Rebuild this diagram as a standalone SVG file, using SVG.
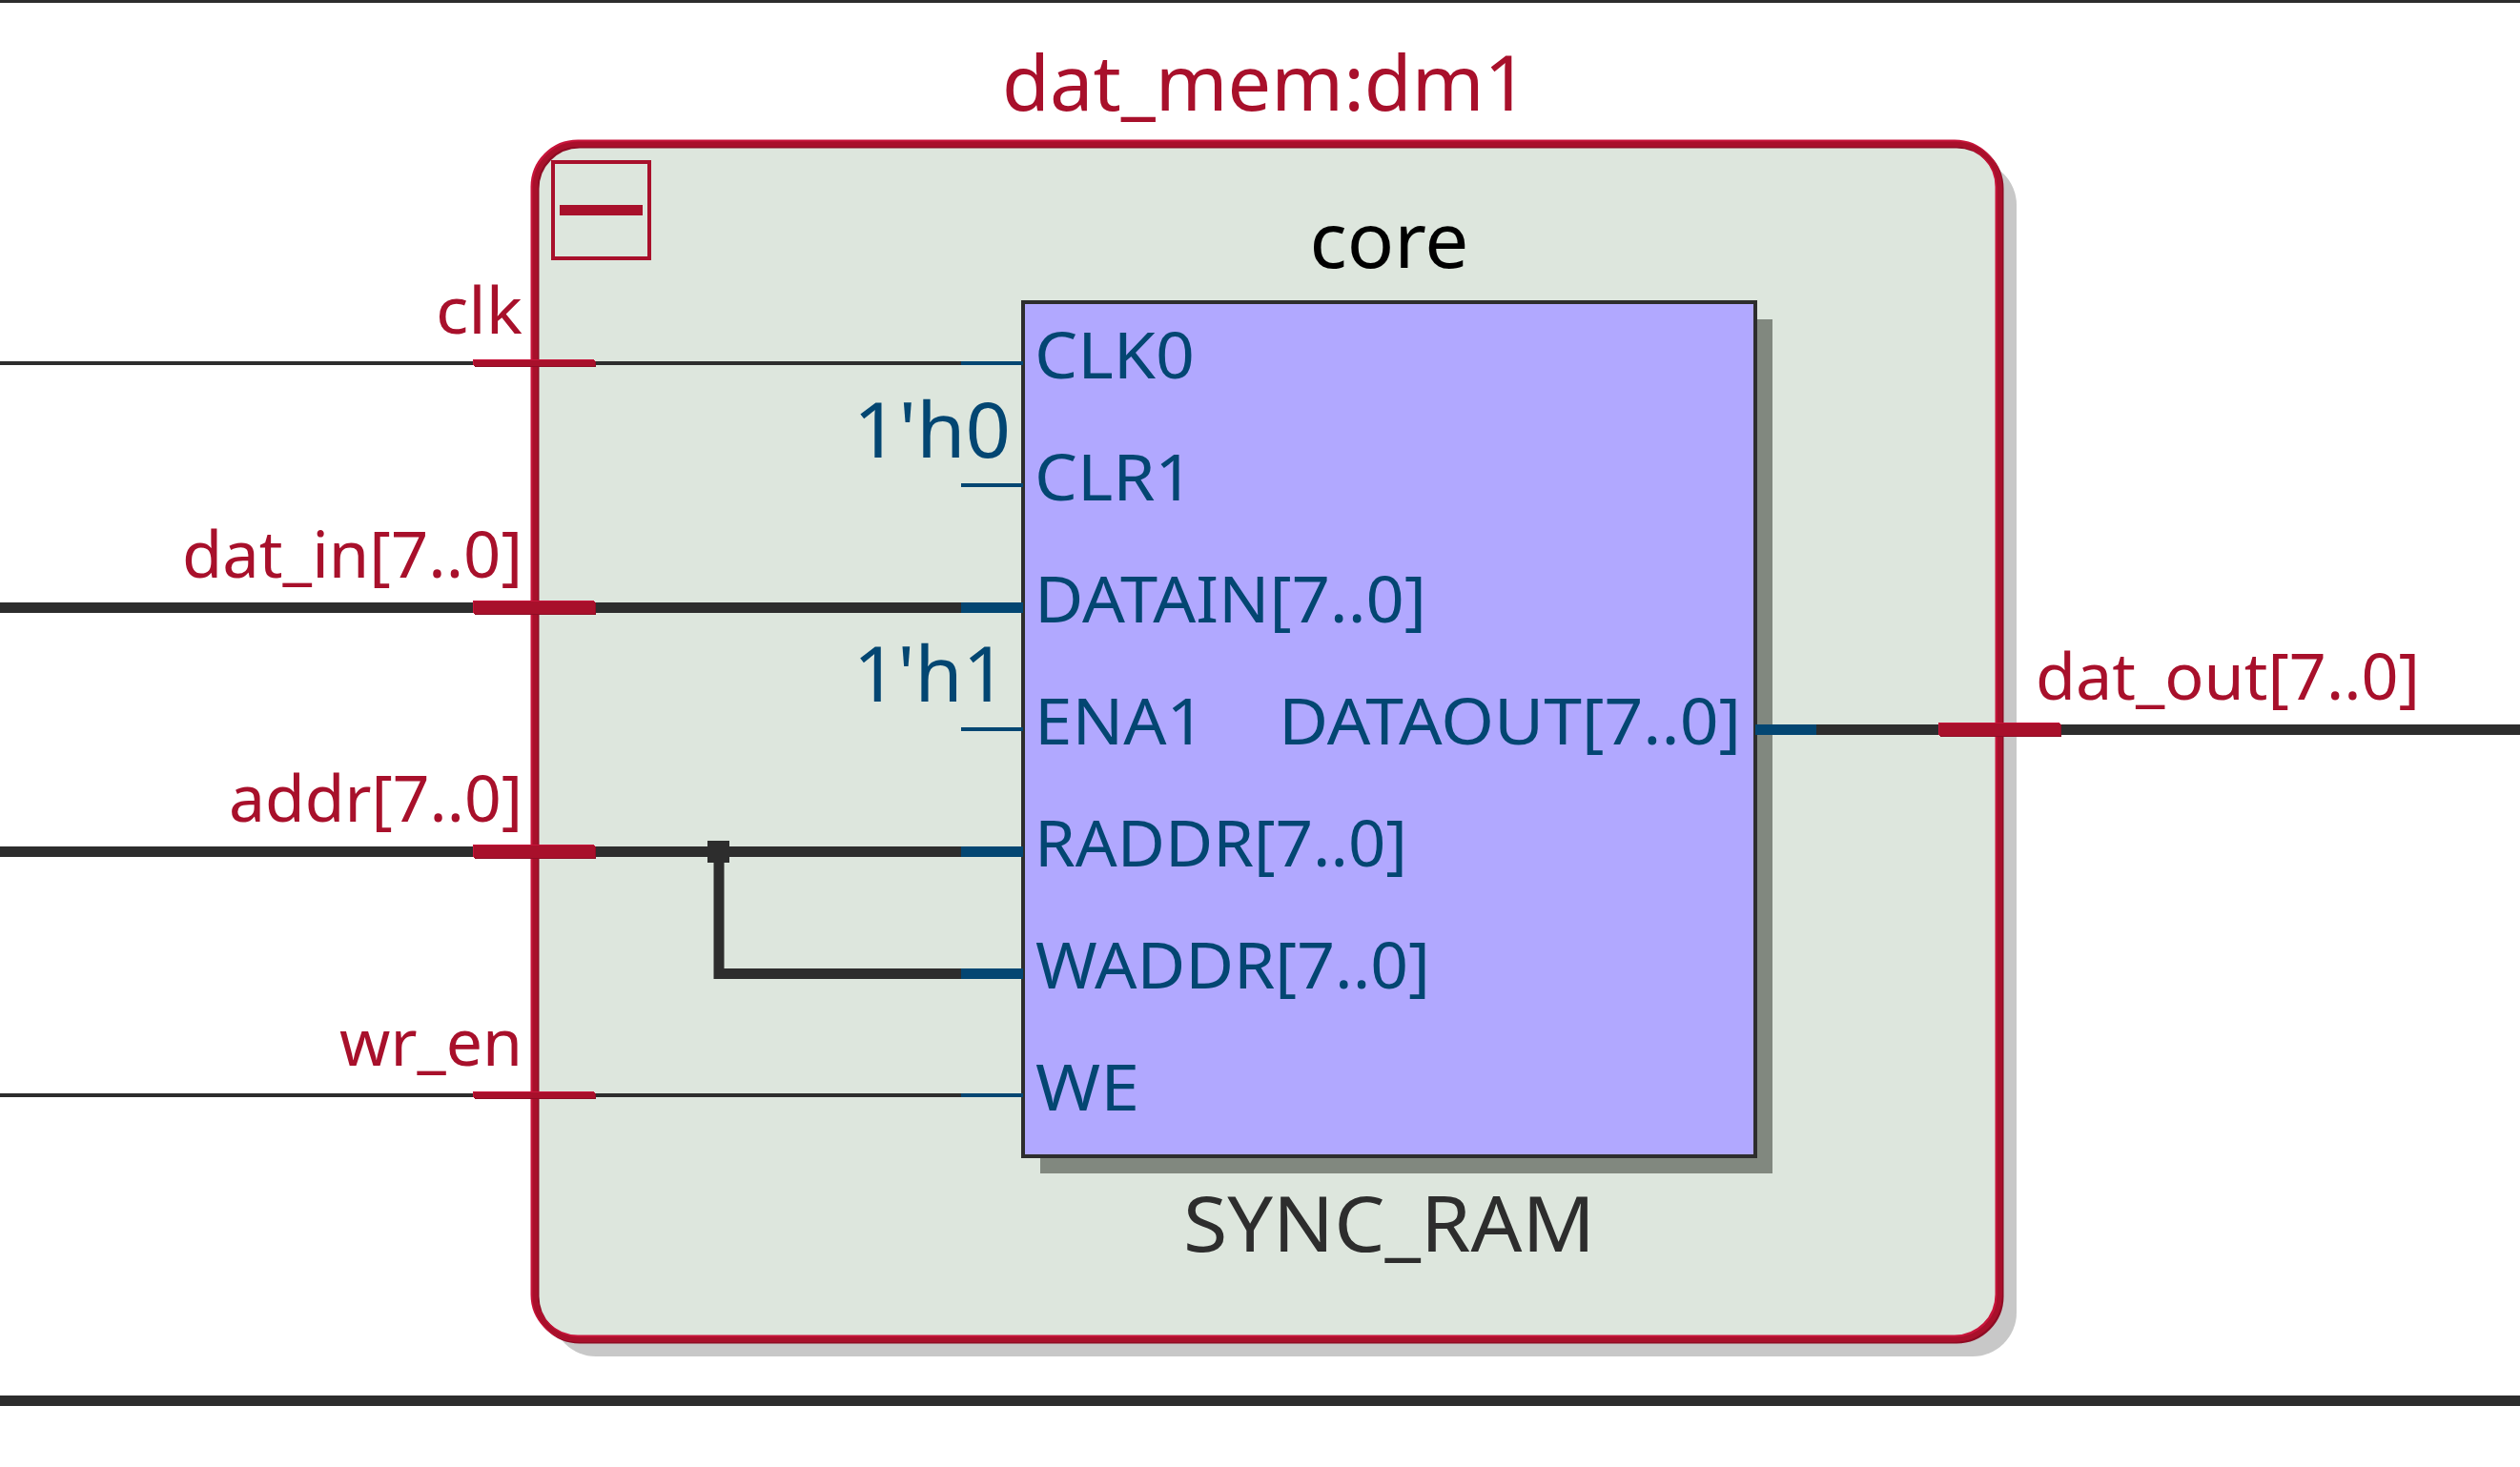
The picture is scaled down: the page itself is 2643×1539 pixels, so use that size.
<svg xmlns="http://www.w3.org/2000/svg" width="2643" height="1539" viewBox="0 0 2643 1539">
<style>
text{font-family:"Noto Sans","Open Sans",sans-serif}
.red{fill:#a8102b;font-size:68px}
.blue{fill:#034672;font-size:68px}
.big{font-size:80px}
.w1{stroke:#2d2d2d;stroke-width:4;fill:none}
.w8{stroke:#2d2d2d;stroke-width:11;fill:none}
.b1{stroke:#034672;stroke-width:4;fill:none}
.b8{stroke:#034672;stroke-width:11;fill:none}
.s1{fill:#a8102b}
.sl{fill:#c8143a}
.sd{fill:#8e0c24}
.frame{fill:none;stroke-width:7}
</style>
<defs>
<rect id="stubT" width="127" height="6"/>
<rect id="stubB" width="127" height="13"/>
</defs>
<rect width="2643" height="1539" fill="#fff"/>
<rect x="0" y="0" width="2643" height="3" fill="#2d2d2d"/>
<rect x="0" y="1464" width="2643" height="11" fill="#2d2d2d"/>
<g id="dat_mem_dm1">
<rect x="561" y="151" width="1536" height="1254" rx="46" fill="#c8c8c8" transform="translate(18 18)"/>
<rect x="561" y="151" width="1536" height="1254" rx="46" fill="#dde6dd"/>
<rect class="frame" x="561" y="151" width="1536" height="1254" rx="46" stroke="#8e0c24" transform="translate(1 1)"/>
<rect class="frame" x="561" y="151" width="1536" height="1254" rx="46" stroke="#c8143a" transform="translate(-1 -1)"/>
<rect x="561" y="151" width="1536" height="1254" rx="46" fill="none" stroke="#a8102b" stroke-width="5"/>
<text class="red big" x="1327" y="116" text-anchor="middle" textLength="552" lengthAdjust="spacingAndGlyphs">dat_mem:dm1</text>
<rect x="580" y="170" width="101" height="101" fill="none" stroke="#a8102b" stroke-width="4"/>
<rect x="587" y="215" width="87" height="11" fill="#a8102b"/>
</g>
<g id="core">
<rect x="1091" y="335" width="768" height="896" fill="#81887f"/>
<rect x="1073" y="317" width="768" height="896" fill="#b1a8ff" stroke="#2d2d2d" stroke-width="4"/>
<text class="big" x="1457" y="281" text-anchor="middle" fill="#000" textLength="167" lengthAdjust="spacingAndGlyphs">core</text>
<text class="big" x="1457" y="1313" text-anchor="middle" fill="#2d2d2d" textLength="432" lengthAdjust="spacingAndGlyphs">SYNC_RAM</text>
<text class="blue" x="1085" y="397" textLength="168" lengthAdjust="spacingAndGlyphs">CLK0</text>
<text class="blue" x="1085" y="525" textLength="167" lengthAdjust="spacingAndGlyphs">CLR1</text>
<text class="blue" x="1085" y="653" textLength="411" lengthAdjust="spacingAndGlyphs">DATAIN[7..0]</text>
<text class="blue" x="1085" y="781" textLength="179" lengthAdjust="spacingAndGlyphs">ENA1</text>
<text class="blue" x="1085" y="909" textLength="391" lengthAdjust="spacingAndGlyphs">RADDR[7..0]</text>
<text class="blue" x="1086" y="1037" textLength="414" lengthAdjust="spacingAndGlyphs">WADDR[7..0]</text>
<text class="blue" x="1086" y="1165" textLength="109" lengthAdjust="spacingAndGlyphs">WE</text>
<text class="blue" x="1826" y="781" text-anchor="end" textLength="485" lengthAdjust="spacingAndGlyphs">DATAOUT[7..0]</text>
<text class="blue big" x="1060" y="480" text-anchor="end" textLength="165" lengthAdjust="spacingAndGlyphs">1'h0</text>
<text class="blue big" x="1056" y="736" text-anchor="end" textLength="161" lengthAdjust="spacingAndGlyphs">1'h1</text>
</g>
<g id="connectors">
<path class="w1" d="M0 381H1008"/>
<path class="w8" d="M0 637.500H1008M0 893.500H1008M754 893V1027"/>
<path class="w8" d="M749 1021.500H1008M1905 765.500H2643"/>
<path class="w1" d="M0 1149H1008"/>
<rect x="742" y="882" width="23" height="23" fill="#2d2d2d"/>
<path class="b1" d="M1008 381H1073M1008 509H1073M1008 765H1073M1008 1149H1073"/>
<path class="b8" d="M1008 637.500H1073M1008 893.500H1073M1008 1021.500H1073M1841 765.500H1905"/>
</g>
<g id="ports">
<g id="port_clk"><use href="#stubT" class="sl" x="496" y="377"/><use href="#stubT" class="sd" x="498" y="379"/><use href="#stubT" class="s1" x="497" y="378"/>
<text class="red" x="548" y="350" text-anchor="end" textLength="91" lengthAdjust="spacingAndGlyphs">clk</text></g>
<g id="port_dat_in"><use href="#stubB" class="sl" x="496" y="630"/><use href="#stubB" class="sd" x="498" y="632"/><use href="#stubB" class="s1" x="497" y="631"/>
<text class="red" x="548" y="606" text-anchor="end" textLength="357" lengthAdjust="spacingAndGlyphs">dat_in[7..0]</text></g>
<g id="port_addr"><use href="#stubB" class="sl" x="496" y="886"/><use href="#stubB" class="sd" x="498" y="888"/><use href="#stubB" class="s1" x="497" y="887"/>
<text class="red" x="548" y="862" text-anchor="end" textLength="308" lengthAdjust="spacingAndGlyphs">addr[7..0]</text></g>
<g id="port_wr_en"><use href="#stubT" class="sl" x="496" y="1145"/><use href="#stubT" class="sd" x="498" y="1147"/><use href="#stubT" class="s1" x="497" y="1146"/>
<text class="red" x="548" y="1118" text-anchor="end" textLength="192" lengthAdjust="spacingAndGlyphs">wr_en</text></g>
<g id="port_dat_out"><use href="#stubB" class="sl" x="2033" y="758"/><use href="#stubB" class="sd" x="2035" y="760"/><use href="#stubB" class="s1" x="2034" y="759"/>
<text class="red" x="2135" y="734" textLength="403" lengthAdjust="spacingAndGlyphs">dat_out[7..0]</text></g>
</g>
</svg>
